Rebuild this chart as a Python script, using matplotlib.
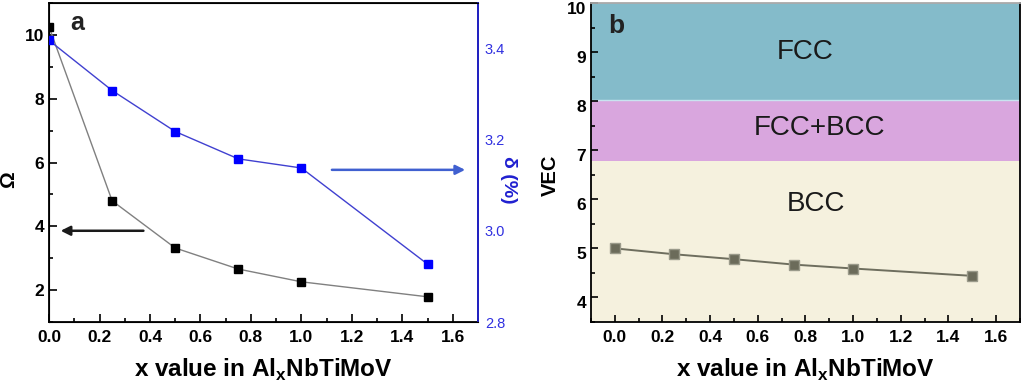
import matplotlib
matplotlib.use("Agg")
import matplotlib.pyplot as plt
import matplotlib.transforms as mtransforms
from matplotlib.ticker import MultipleLocator, FixedLocator

plt.rcParams['font.family'] = ['Liberation Sans', 'DejaVu Sans']
plt.rcParams['mathtext.fontset'] = 'custom'
plt.rcParams['mathtext.bf'] = 'Liberation Sans:bold'
plt.rcParams['mathtext.rm'] = 'Liberation Sans'

# data
x_vals = [0.0, 0.25, 0.5, 0.75, 1.0, 1.5]
omega = [10.25, 4.8, 3.32, 2.66, 2.26, 1.79]
delta = [3.418, 3.308, 3.218, 3.158, 3.138, 2.927]
vec = [5.0, 4.88, 4.78, 4.67, 4.59, 4.44]

# phase regions in panel b (VEC bounds)
regions = ["BCC", "FCC+BCC", "FCC"]
region_bounds = [3.5, 6.78, 8.02, 10.0]
region_colors = ["#f5f1de", "#d9a6de", "#84bbca"]

xlabel = r"x value in Al$_\mathbf{x}$NbTiMoV"

fig = plt.figure(figsize=(10.24, 3.86), dpi=100)

# ---- panel a ----
ax = fig.add_axes([0.0479, 0.1658, 0.4189, 0.8264])
ax.plot(x_vals, omega, color="#808080", lw=1.0, marker="s", ms=5.5,
        mfc="black", mec="black", zorder=3)
ax.set_xlim(0, 1.7)
ax.set_ylim(1, 11)
ax.xaxis.set_major_locator(MultipleLocator(0.2))
ax.xaxis.set_minor_locator(MultipleLocator(0.1))
ax.yaxis.set_major_locator(FixedLocator([2, 4, 6, 8, 10]))
ax.yaxis.set_minor_locator(MultipleLocator(1))
ax.tick_params(which="both", direction="in", right=True, top=False,
               labelsize=12.5, width=1.2)
ax.tick_params(which="major", length=6)
ax.tick_params(which="minor", length=3)
ax.tick_params(axis="x", pad=6)
for lab in ax.get_xticklabels() + ax.get_yticklabels():
    lab.set_fontweight("bold")
ax.set_xlabel(xlabel, fontsize=17.5, fontweight="bold", labelpad=8)
ax.set_ylabel("Ω", fontsize=15, fontweight="bold")
ax.yaxis.set_label_coords(-0.072, 0.445)
for s in ax.spines.values():
    s.set_linewidth(1.3)
ax.spines["right"].set_color("#2020c0")

ax2 = ax.twinx()
ax2.plot(x_vals, delta, color="#4040d0", lw=1.0, marker="s", ms=5.5,
         mfc="#0000ff", mec="#0000ff", zorder=3)
ax2.set_ylim(2.8, 3.5)
ax2.yaxis.set_major_locator(FixedLocator([2.8, 3.0, 3.2, 3.4]))
ax2.tick_params(axis="y", length=0, labelsize=10.5, labelcolor="#3030e0", pad=5)
ax2.set_ylabel("δ (%)", color="#2020d0", fontsize=14, fontweight="bold",
               rotation=270, labelpad=16)
ax2.yaxis.set_label_coords(1.09, 0.445)
ax2.spines["right"].set_color("#2020c0")
ax2.spines["right"].set_linewidth(1.3)

ax.annotate("", xy=(0.035, 3.86), xytext=(0.385, 3.86),
            arrowprops=dict(arrowstyle="-|>", color="#1a1a1a", lw=1.8,
                            mutation_scale=14))
ax.annotate("", xy=(1.66, 5.77), xytext=(1.11, 5.77),
            arrowprops=dict(arrowstyle="-|>", color="#4060d0", lw=1.8,
                            mutation_scale=14))
ax.text(0.05, 0.975, "a", transform=ax.transAxes, fontsize=18,
        fontweight="bold", color="#222222", va="top")

# ---- panel b ----
bx = fig.add_axes([0.5771, 0.1658, 0.4190, 0.8264])
for name, lo, hi, col in zip(regions, region_bounds[:-1], region_bounds[1:],
                             region_colors):
    bx.axhspan(lo, hi, color=col, zorder=0, lw=0)
bx.axhline(region_bounds[2], color="#c8e4f0", lw=1.0, zorder=1)
bx.plot(x_vals, vec, color="#6e6e5e", lw=1.4, marker="s", ms=6.5,
        mfc="#6b6b5a", mec="#9a9a8a", zorder=3)
bx.set_xlim(-0.1, 1.7)
bx.set_ylim(3.5, 10)
bx.xaxis.set_major_locator(MultipleLocator(0.2))
bx.xaxis.set_minor_locator(MultipleLocator(0.1))
bx.yaxis.set_major_locator(MultipleLocator(1))
bx.yaxis.set_minor_locator(MultipleLocator(0.5))
bx.tick_params(which="both", direction="in", labelsize=12.5, width=1.2)
bx.tick_params(which="major", length=5)
bx.tick_params(which="minor", length=3)
bx.tick_params(axis="x", pad=6)
shift = mtransforms.ScaledTranslation(0, -5 / 100, fig.dpi_scale_trans)
for lab in bx.get_yticklabels():
    lab.set_transform(lab.get_transform() + shift)
for lab in bx.get_xticklabels() + bx.get_yticklabels():
    lab.set_fontweight("bold")
bx.set_xlabel(xlabel, fontsize=17.5, fontweight="bold", labelpad=8)
bx.set_ylabel("VEC", fontsize=14.5, fontweight="bold")
bx.yaxis.set_label_coords(-0.072, 0.46)
for s in bx.spines.values():
    s.set_linewidth(1.3)
bx.spines["top"].set_color("#aaaaaa")
bx.text(0.80, 9.0, "FCC", fontsize=20, ha="center", va="center",
        color="#1a1a1a")
bx.text(0.86, 7.45, "FCC+BCC", fontsize=20, ha="center", va="center",
        color="#1a1a1a")
bx.text(0.845, 5.9, "BCC", fontsize=20, ha="center", va="center",
        color="#1a1a1a")
bx.text(0.04, 0.965, "b", transform=bx.transAxes, fontsize=19,
        fontweight="bold", color="#222222", va="top")

fig.savefig("out.png", dpi=100)
